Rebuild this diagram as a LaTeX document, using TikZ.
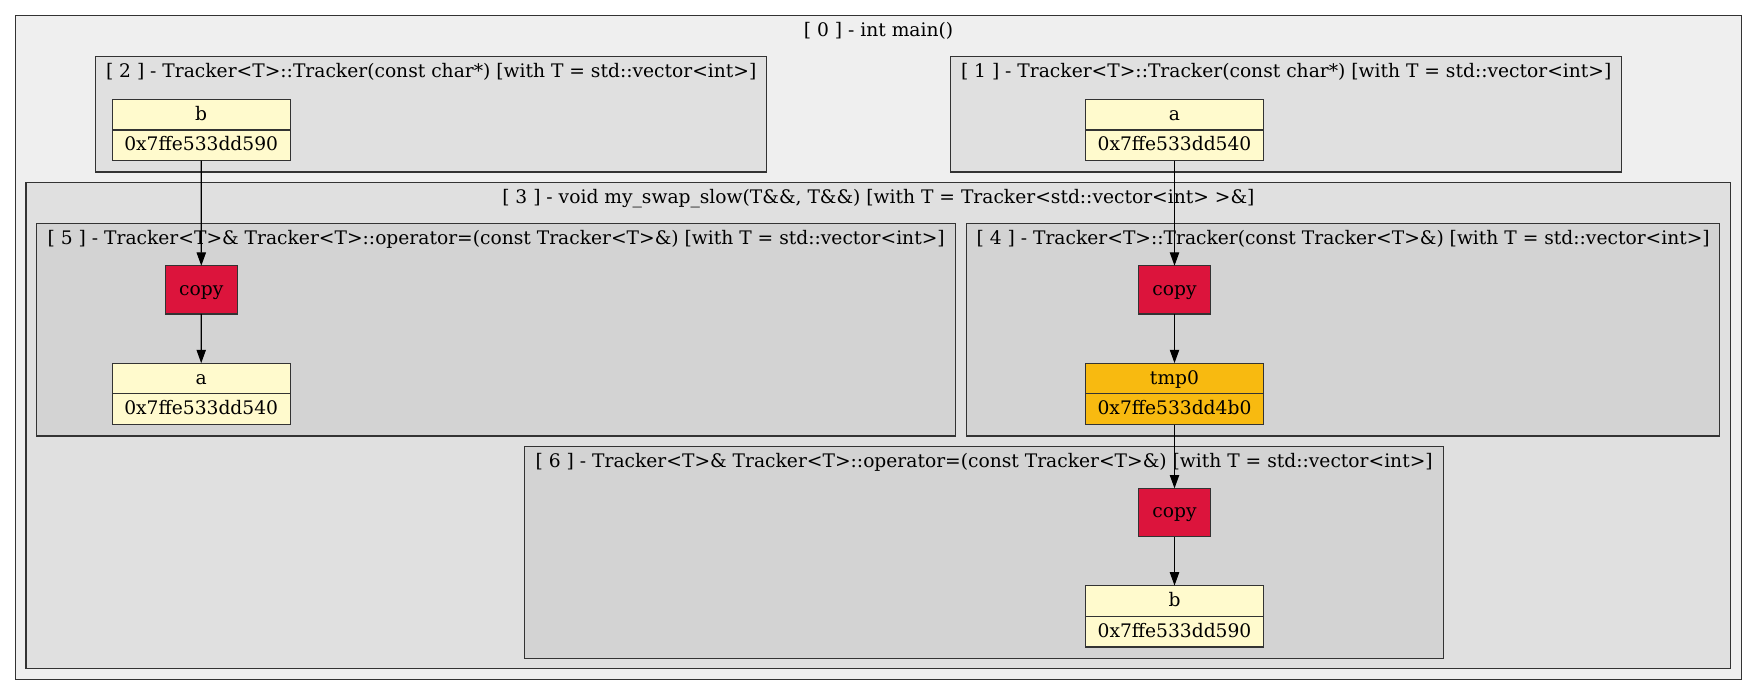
\documentclass[tikz,border=0pt]{standalone}
\usepackage{fontspec}
\setmainfont{DejaVu Serif}
\usetikzlibrary{arrows.meta}
\definecolor{outerbg}{HTML}{EFEFEF}
\definecolor{midbg}{HTML}{E0E0E0}
\definecolor{innerbg}{HTML}{D3D3D3}
\definecolor{lemon}{HTML}{FFFACD}
\definecolor{crim}{HTML}{DC143C}
\definecolor{amber}{HTML}{F8BA10}
\definecolor{edgegray}{HTML}{333333}
\newcommand\recnode[6]{%
  \node[rec,fill=#4] (#1) at (#2,#3) {};
  \draw[line width=0.85pt,draw=edgegray] (#1.west) -- (#1.east);
  \node[lbl] (#1-top) at (#2,{#3-9.85}) {#5};
  \node[lbl] (#1-bot) at (#2,{#3+20.85}) {#6};
}
\begin{document}
\begin{tikzpicture}[x=0.75pt,y=-0.75pt,
  clus/.style={draw=edgegray,line width=0.85pt},
  ttl/.style={anchor=base,inner sep=0pt,font=\fontsize{14}{16}\selectfont},
  lbl/.style={anchor=base,inner sep=0pt,font=\fontsize{14}{16}\selectfont},
  rec/.style={draw=edgegray,line width=0.85pt,minimum width=133.3pt,minimum height=46.1pt,inner sep=0pt,outer sep=0pt},
  cpy/.style={draw=edgegray,line width=0.85pt,fill=crim,minimum width=54pt,minimum height=36.2pt,inner sep=0pt,outer sep=0pt,text height=10.6pt,text depth=2.4pt,font=\fontsize{14}{16}\selectfont},
  edge/.style={line width=0.85pt,-{Triangle[length=10pt,width=7pt]}}]
\useasboundingbox (0,0) rectangle (1757,696);
\fill[white] (0,0) rectangle (1757,696);
% cluster 0
\draw[clus,fill=outerbg] (15.7,15.7) rectangle (1741.3,679.5);
\node[ttl] (t0) at (878.5,36.7) {[ 0 ] - int main()};
% cluster 2
\draw[clus,fill=midbg] (95.7,56.7) rectangle (766.7,172);
\node[ttl] (t2) at (431.2,77.7) {[ 2 ] - Tracker<T>::Tracker(const char*) [with T = std::vector<int>]};
% cluster 1
\draw[clus,fill=midbg] (950.7,56.7) rectangle (1621.7,172);
\node[ttl] (t1) at (1286.2,77.7) {[ 1 ] - Tracker<T>::Tracker(const char*) [with T = std::vector<int>]};
% cluster 3
\draw[clus,fill=midbg] (26,182.7) rectangle (1730.7,668.8);
\node[ttl] (t3) at (878.4,203.4) {[ 3 ] - void my\_swap\_slow(T\&\&, T\&\&) [with T = Tracker<std::vector<int> >\&]};
% cluster 5
\draw[clus,fill=innerbg] (36.7,223.7) rectangle (955.7,436);
\node[ttl] (t5) at (496.2,244.7) {[ 5 ] - Tracker<T>\& Tracker<T>::operator=(const Tracker<T>\&) [with T = std::vector<int>]};
% cluster 4
\draw[clus,fill=innerbg] (966.7,223.7) rectangle (1719.7,436);
\node[ttl] (t4) at (1343.2,244.7) {[ 4 ] - Tracker<T>::Tracker(const Tracker<T>\&) [with T = std::vector<int>]};
% cluster 6
\draw[clus,fill=innerbg] (524.7,446.5) rectangle (1443.7,658.5);
\node[ttl] (t6) at (984.2,467.4) {[ 6 ] - Tracker<T>\& Tracker<T>::operator=(const Tracker<T>\&) [with T = std::vector<int>]};
% nodes
\recnode{b2}{201.2}{130}{lemon}{b}{0x7ffe533dd590}
\recnode{a1}{1174.5}{130}{lemon}{a}{0x7ffe533dd540}
\node[cpy] (c5) at (201.3,289.85) {copy};
\recnode{a5}{201.2}{393.85}{lemon}{a}{0x7ffe533dd540}
\node[cpy] (c4) at (1174.5,289.85) {copy};
\recnode{tmp}{1174.5}{393.85}{amber}{tmp0}{0x7ffe533dd4b0}
\node[cpy] (c6) at (1174.5,512.5) {copy};
\recnode{b6}{1174.5}{616.3}{lemon}{b}{0x7ffe533dd590}
% edges
\draw[edge] (b2.south) -- (c5.north);
\draw[edge] (c5.south) -- (a5.north);
\draw[edge] (a1.south) -- (c4.north);
\draw[edge] (c4.south) -- (tmp.north);
\draw[edge] (tmp.south) -- (c6.north);
\draw[edge] (c6.south) -- (b6.north);
\end{tikzpicture}
\end{document}
